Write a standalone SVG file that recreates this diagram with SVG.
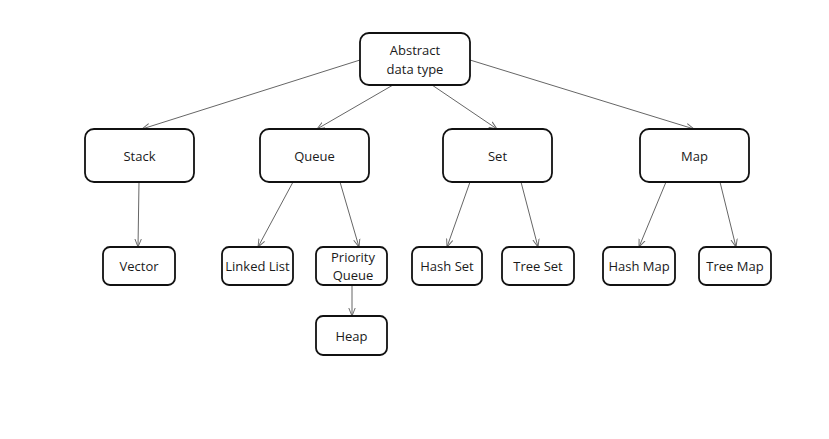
<svg xmlns="http://www.w3.org/2000/svg" width="829" height="439" viewBox="0 0 829 439">
<style>
.box{fill:#fff;stroke:#111;stroke-width:1.8}
.t{font-family:"Open Sans","Liberation Sans",sans-serif;font-size:13px;fill:#1a1a1a;text-anchor:middle;dominant-baseline:central}
.c{stroke:#666;stroke-width:1;fill:none;marker-end:url(#a)}
</style>
<defs>
<marker id="a" viewBox="0 0 10 10" refX="10" refY="5" markerWidth="8" markerHeight="8" markerUnits="userSpaceOnUse" orient="auto">
<path d="M0,1 L10,5 L0,9" fill="none" stroke="#666" stroke-width="1.2"/>
</marker>
</defs>
<rect width="829" height="439" fill="#fff"/>
<g id="connectors">
<line class="c" x1="360" y1="60" x2="142" y2="129"/>
<line class="c" x1="393" y1="85" x2="317" y2="129"/>
<line class="c" x1="432" y1="85" x2="497" y2="129"/>
<line class="c" x1="470" y1="60" x2="694" y2="129"/>
<line class="c" x1="139" y1="182" x2="138" y2="247"/>
<line class="c" x1="293" y1="182" x2="258" y2="247"/>
<line class="c" x1="340" y1="182" x2="359" y2="247"/>
<line class="c" x1="352" y1="285" x2="352" y2="316"/>
<line class="c" x1="470" y1="182" x2="447" y2="247"/>
<line class="c" x1="521" y1="182" x2="538" y2="247"/>
<line class="c" x1="666" y1="182" x2="639" y2="247"/>
<line class="c" x1="720" y1="182" x2="736" y2="247"/>
</g>
<g id="adt"><rect class="box" x="360" y="33" width="110" height="52" rx="9"/><text class="t" x="415" y="50">Abstract</text><text class="t" x="415" y="69">data type</text></g>
<g id="stack"><rect class="box" x="85" y="129" width="109" height="53" rx="9"/><text class="t" x="139.5" y="156">Stack</text></g>
<g id="queue"><rect class="box" x="260" y="129" width="109" height="53" rx="9"/><text class="t" x="314.5" y="156">Queue</text></g>
<g id="set"><rect class="box" x="443" y="129" width="109" height="53" rx="9"/><text class="t" x="497.5" y="156">Set</text></g>
<g id="map"><rect class="box" x="640" y="129" width="109" height="53" rx="9"/><text class="t" x="694.5" y="156">Map</text></g>
<g id="vector"><rect class="box" x="103" y="247" width="72" height="38" rx="7"/><text class="t" x="139" y="266">Vector</text></g>
<g id="linkedlist"><rect class="box" x="222" y="247" width="71" height="38" rx="7"/><text class="t" x="257.5" y="266">Linked List</text></g>
<g id="priorityqueue"><rect class="box" x="316" y="247" width="71" height="38" rx="7"/><text class="t" x="353" y="257">Priority</text><text class="t" x="353" y="275">Queue</text></g>
<g id="heap"><rect class="box" x="316" y="316" width="71" height="39" rx="7"/><text class="t" x="351.5" y="335.5">Heap</text></g>
<g id="hashset"><rect class="box" x="412" y="247" width="70" height="38" rx="7"/><text class="t" x="447" y="266">Hash Set</text></g>
<g id="treeset"><rect class="box" x="502" y="247" width="72" height="38" rx="7"/><text class="t" x="538" y="266">Tree Set</text></g>
<g id="hashmap"><rect class="box" x="603" y="247" width="72" height="38" rx="7"/><text class="t" x="639" y="266">Hash Map</text></g>
<g id="treemap"><rect class="box" x="699" y="247" width="72" height="38" rx="7"/><text class="t" x="735" y="266">Tree Map</text></g>
</svg>
